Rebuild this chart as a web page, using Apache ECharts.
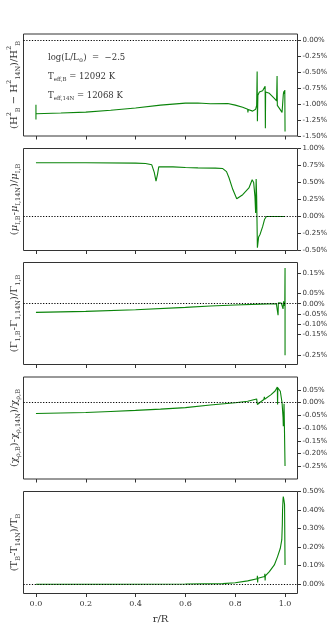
<!DOCTYPE html>
<html>
<head>
<meta charset="utf-8">
<script src="https://cdn.jsdelivr.net/npm/echarts@6.0.0/dist/echarts.min.js"></script>
<style>
  html, body { margin: 0; padding: 0; background: #fff; }
  #chart { width: 334px; height: 631px; }
</style>
</head>
<body>
<div id="chart"></div>
<script>
// x ticks (r/R)
const xTicks = [0, 0.2, 0.4, 0.6, 0.8, 1.0];

// panel 1: (H2_B - H2_14N)/H2_B  [%]
const r1 = [0, 0, 0, 0.1, 0.2, 0.3, 0.4, 0.5, 0.6, 0.65, 0.7, 0.77, 0.8, 0.801, 0.802, 0.83, 0.85, 0.851, 0.852, 0.87, 0.877, 0.882, 0.886, 0.888, 0.889, 0.891, 0.897, 0.91, 0.918, 0.92, 0.921, 0.922, 0.937, 0.957, 0.966, 0.968, 0.969, 0.978, 0.988, 0.993, 0.995, 0.997, 0.999, 1.0];
const v1 = [-1.01, -1.24, -1.15, -1.14, -1.125, -1.095, -1.06, -1.015, -0.985, -0.982, -0.995, -0.99, -1.016, -1.04, -1.02, -1.05, -1.08, -1.13, -1.085, -1.11, -1.12, -1.08, -1.02, -0.49, -1.27, -0.86, -0.81, -0.79, -0.8, -0.72, -1.38, -0.81, -0.83, -0.91, -0.95, -0.56, -1.02, -1.07, -1.13, -0.85, -0.8, -0.84, -0.78, -1.43];
const yTicks1 = [0, -0.25, -0.5, -0.75, -1, -1.25, -1.5];

// panel 2: mu_I
const r2 = [0, 0.2, 0.4, 0.44, 0.465, 0.475, 0.482, 0.488, 0.493, 0.5, 0.55, 0.6, 0.65, 0.72, 0.75, 0.765, 0.775, 0.79, 0.806, 0.83, 0.855, 0.868, 0.874, 0.879, 0.882, 0.884, 0.886, 0.889, 0.894, 0.9, 0.91, 0.918, 0.925, 1.0];
const v2 = [0.79, 0.79, 0.785, 0.78, 0.76, 0.65, 0.52, 0.62, 0.73, 0.74, 0.73, 0.72, 0.715, 0.712, 0.705, 0.66, 0.57, 0.4, 0.26, 0.32, 0.42, 0.54, 0.5, 0.3, 0.05, 0.55, 0.3, -0.46, -0.3, -0.26, -0.15, -0.04, 0, 0];
const yTicks2 = [1, 0.75, 0.5, 0.25, 0, -0.25, -0.5];

// panel 3: Gamma_1
const r3 = [0, 0.2, 0.4, 0.6, 0.7, 0.8, 0.9, 0.965, 0.971, 0.972, 0.973, 0.985, 0.991, 0.992, 0.994, 0.996, 0.999, 1.0, 1.0];
const v3 = [-0.042, -0.037, -0.029, -0.018, -0.011, -0.006, -0.002, 0, 0.002, -0.056, 0.004, 0.003, 0.008, -0.025, 0.012, -0.01, 0, 0.173, -0.25];
const yTicks3 = [0.15, 0.05, 0, -0.05, -0.1, -0.15, -0.25];

// panel 4: chi_rho
const r4 = [0, 0.1, 0.2, 0.3, 0.4, 0.5, 0.6, 0.7, 0.8, 0.85, 0.886, 0.888, 0.889, 0.9, 0.915, 0.917, 0.918, 0.944, 0.96, 0.969, 0.97, 0.971, 0.975, 0.981, 0.988, 0.992, 0.993, 0.994, 0.996, 0.999, 1.0];
const v4 = [-0.043, -0.041, -0.039, -0.035, -0.031, -0.026, -0.02, -0.01, -0.001, 0.005, 0.014, 0.021, -0.008, 0.001, 0.012, 0.022, 0.013, 0.031, 0.045, 0.061, -0.008, 0.058, 0.055, 0.044, -0.001, -0.06, -0.093, -0.07, -0.005, -0.01, -0.249];
const yTicks4 = [0.05, 0, -0.05, -0.1, -0.15, -0.2, -0.25];

// panel 5: T
const r5 = [0, 0.3, 0.6, 0.75, 0.8, 0.85, 0.888, 0.889, 0.89, 0.891, 0.918, 0.919, 0.92, 0.921, 0.937, 0.957, 0.97, 0.981, 0.987, 0.989, 0.99, 0.992, 0.993, 0.996, 0.998, 1.0];
const v5 = [0, 0, 0.001, 0.003, 0.008, 0.018, 0.03, 0.045, 0.009, 0.032, 0.042, 0.056, 0.02, 0.045, 0.068, 0.104, 0.149, 0.194, 0.24, 0.32, 0.4, 0.46, 0.473, 0.45, 0.43, 0.104];
const yTicks5 = [0.5, 0.4, 0.3, 0.2, 0.1, 0];

const panels = [
  { r: r1, v: v1, ticks: yTicks1, min: -1.5, max: 0.1, top: 34, height: 102 },
  { r: r2, v: v2, ticks: yTicks2, min: -0.5, max: 1.0, top: 148.5, height: 102 },
  { r: r3, v: v3, ticks: yTicks3, min: -0.295, max: 0.2, top: 262.5, height: 102 },
  { r: r4, v: v4, ticks: yTicks4, min: -0.3, max: 0.1, top: 377, height: 102 },
  { r: r5, v: v5, ticks: yTicks5, min: -0.05, max: 0.5, top: 491.5, height: 102 }
];

const ink = '#333';
const serif = 'DejaVu Serif';

const grid = [], xAxis = [], yAxis = [], series = [];
panels.forEach(function (p, i) {
  const last = i === panels.length - 1;
  grid.push({
    left: 23.5, right: 36.5, top: p.top, height: p.height,
    show: true, borderColor: ink, borderWidth: 1, backgroundColor: 'transparent'
  });
  xAxis.push({
    gridIndex: i, type: 'value', min: -0.05, max: 1.05, position: 'bottom',
    axisLine: { show: false, onZero: false },
    splitLine: { show: false },
    axisTick: { show: true, customValues: xTicks, length: 3.5, lineStyle: { color: ink } },
    axisLabel: {
      show: last, customValues: xTicks, margin: 6,
      fontFamily: serif, fontSize: 8, color: ink,
      formatter: function (v) { return v.toFixed(1); }
    },
    name: last ? 'r/R' : '',
    nameLocation: 'middle', nameGap: 21,
    nameTextStyle: { fontFamily: serif, fontSize: 10, color: ink }
  });
  yAxis.push({
    gridIndex: i, type: 'value', position: 'right', min: p.min, max: p.max,
    axisLine: { show: false, onZero: false },
    splitLine: { show: false },
    axisTick: { show: true, customValues: p.ticks, length: 3.5, lineStyle: { color: ink } },
    axisLabel: {
      customValues: p.ticks, margin: 5,
      fontFamily: 'DejaVu Sans', fontSize: 7, color: ink,
      formatter: function (v) { return v.toFixed(2) + '%'; }
    }
  });
  series.push({
    type: 'line', xAxisIndex: i, yAxisIndex: i,
    data: p.r.map(function (r, k) { return [r, p.v[k]]; }),
    symbol: 'none', smooth: false,
    lineStyle: { color: '#0a840a', width: 1.1 },
    markLine: {
      silent: true, symbol: 'none', label: { show: false },
      lineStyle: { color: '#000', type: [1.2, 1.6], width: 1.2 },
      data: [{ yAxis: 0 }]
    }
  });
});

// rich text styles for the axis titles and the note
const rich = {
  n: { fontFamily: serif, fontSize: 10, color: ink, lineHeight: 16 },
  i: { fontFamily: serif, fontSize: 10, fontStyle: 'italic', color: ink, lineHeight: 16 },
  s: { fontFamily: serif, fontSize: 6.5, color: ink, verticalAlign: 'bottom' },
  p: { fontFamily: serif, fontSize: 6.5, color: ink, verticalAlign: 'top' }
};

function yTitle(text, cy) {
  return {
    type: 'text', x: 14, y: cy, rotation: Math.PI / 2,
    style: {
      text: text, rich: rich, fill: ink,
      align: 'center', verticalAlign: 'middle',
      textAlign: 'center', textVerticalAlign: 'middle'
    }
  };
}

function note(text, y) {
  return {
    type: 'text', x: 48, y: y,
    style: {
      text: text, rich: {
        n: { fontFamily: serif, fontSize: 8.5, color: ink, lineHeight: 12 },
        s: { fontFamily: serif, fontSize: 5.5, color: ink, verticalAlign: 'bottom' }
      },
      fill: ink, align: 'left', verticalAlign: 'middle',
      textAlign: 'left', textVerticalAlign: 'middle'
    }
  };
}

const graphic = [
  yTitle('{n|(H}{p|2}{s|B}{n| − H}{p|2}{s|14N}{n|)/H}{p|2}{s|B}', 85),
  yTitle('{n|(}{i|μ}{s|I,B}{n|-}{i|μ}{s|I,14N}{n|)/}{i|μ}{s|I,B}', 199.5),
  yTitle('{n|(Γ}{s|1,B}{n|-Γ}{s|1,14N}{n|)/Γ}{s|1,B}', 313.5),
  yTitle('{n|(χ}{s|ρ,B}{n|)-χ}{s|ρ,14N}{n|)/χ}{s|ρ,B}', 428),
  yTitle('{n|(T}{s|B}{n|-T}{s|14N}{n|)/T}{s|B}', 542.5),
  note('{n|log(L/L}{s|⊙}{n|)  =  −2.5}', 58),
  note('{n|T}{s|eff,B}{n| = 12092 K}', 76.5),
  note('{n|T}{s|eff,14N}{n| = 12068 K}', 95.5)
];

const myChart = echarts.init(document.getElementById('chart'));
const option = {
  backgroundColor: '#fff',
  animation: false,
  grid: grid,
  xAxis: xAxis,
  yAxis: yAxis,
  series: series,
  graphic: graphic
};
myChart.setOption(option);
</script>
</body>
</html>
